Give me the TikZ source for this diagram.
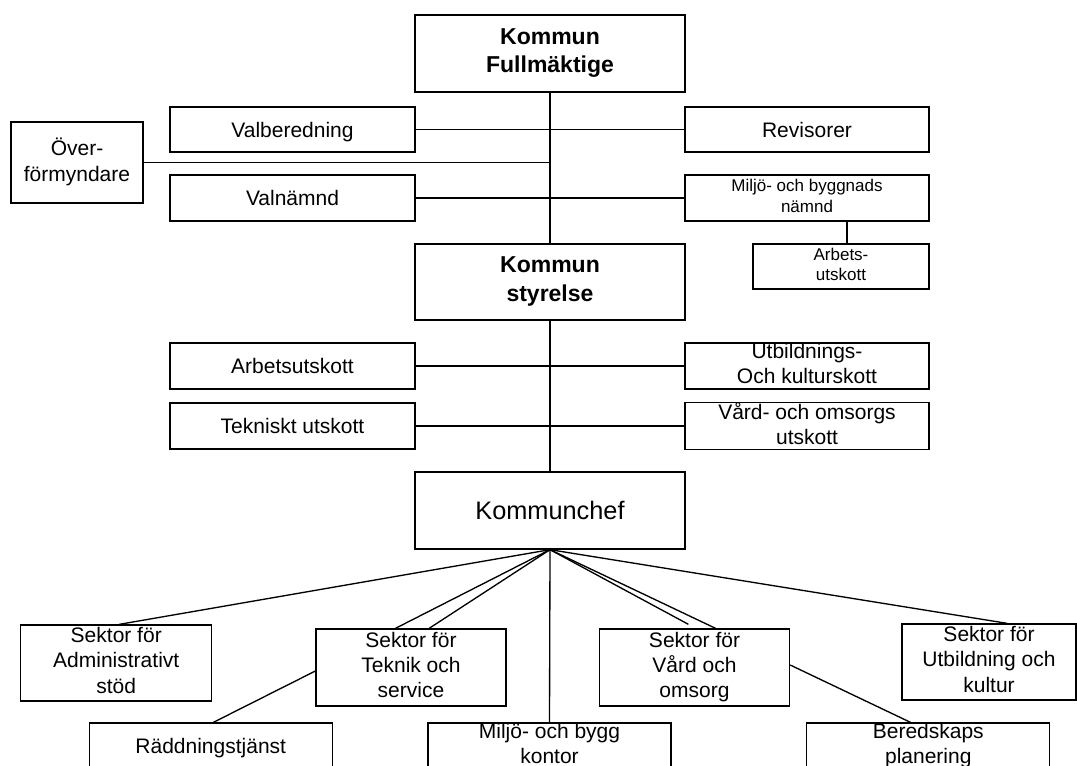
\documentclass[tikz,border=0pt]{standalone}
\usepackage{fontspec}
\setmainfont{Liberation Sans}
\usetikzlibrary{calc}
\newcommand\boxstrut{\rule[-0.25em]{0pt}{1.216em}}
\begin{document}
\begin{tikzpicture}[x=0.75pt,y=-0.75pt,
  bx/.style 2 args={draw=black, line width=1pt, rectangle, inner sep=0pt, align=center,
     minimum width=#1*0.75pt, minimum height=#2*0.75pt,
     execute at begin node={\boxstrut}, execute at end node={\boxstrut}},
  nf/.style={font=\fontsize{15.75}{19}\selectfont},
  sf/.style={font=\fontsize{12.75}{15.5}\selectfont},
  bf/.style={font=\fontsize{17.25}{21.3}\selectfont\bfseries},
  cf/.style={font=\fontsize{19}{23}\selectfont},
  ln/.style={draw=black, line width=1pt}]
\path[use as bounding box, fill=white] (0,0) rectangle (1077,766);
\clip (0,0) rectangle (1077,766);

% top level
\node[bx={270}{77}, bf] (kf) at (550,53.5) {Kommun\\Fullmäktige};
\node[bx={245}{45}, nf] (vb) at (292.5,129.5) {Valberedning};
\node[bx={244}{45}, nf] (rev) at (807,129.5) {Revisorer};
\node[bx={132}{81}, nf] (ovr) at (77,162.5) {Över-\\förmyndare};
\node[bx={245}{46}, nf] (vn) at (292.5,198) {Valnämnd};
\node[bx={244}{46}, sf] (mbn) at (807,198) {Miljö- och byggnads\\nämnd};
\node[bx={176}{45}, sf] (abt) at (841,266.5) {Arbets-\\utskott};
\node[bx={270}{76}, bf] (ks) at (550,282) {Kommun\\styrelse};
\node[bx={245}{46}, nf] (au) at (292.5,366) {Arbetsutskott};
\node[bx={244}{46}, nf] (uks) at (807,366) {Utbildnings-\\Och kulturskott};
\node[bx={245}{46}, nf] (tu) at (292.5,426) {Tekniskt utskott};
\node[bx={244}{46}, nf] (vou) at (807,426) {Vård- och omsorgs\\utskott};
\node[bx={270}{77}, cf] (kc) at (550,510.5) {Kommunchef};

% sectors
\node[bx={191}{76}, nf] (adm) at (116.25,663) {Sektor för\\Administrativt\\stöd};
\node[bx={190}{77}, nf] (tek) at (411,667.5) {Sektor för\\Teknik och\\service};
\node[bx={190}{77}, nf] (vrd) at (694.5,667.5) {Sektor för\\Vård och\\omsorg};
\node[bx={174}{76}, nf] (utb) at (989,662) {Sektor för\\Utbildning och\\kultur};
\node[bx={243}{46}, nf] (rdd) at (210.75,746) {Räddningstjänst};
\node[bx={243}{46}, nf] (mbk) at (549.5,746) {Miljö- och bygg\\kontor};
\node[bx={243}{46}, nf] (ber) at (928.3,746) {Beredskaps\\planering};

% connectors
\draw[ln] (kf.south) -- (ks.north);
\draw[ln] (ks.south) -- (kc.north);
\draw[ln] (vb.east) -- (rev.west);
\draw[ln] (vn.east) -- (mbn.west);
\draw[ln] (ovr.east) -- (ovr.east -| kf.south);
\coordinate (abtop) at ($(abt.north west)!0.534!(abt.north east)$);
\draw[ln] (abtop) -- (abtop |- mbn.south);
\draw[ln] (au.east) -- (uks.west);
\draw[ln] (tu.east) -- (vou.west);

\coordinate (fan) at (kc.south);
\draw[ln] (fan) -- ($(adm.north west)!0.516!(adm.north east)$);
\draw[ln] (fan) -- ($(tek.north west)!0.419!(tek.north east)$);
\draw[ln] (fan) -- ($(tek.north west)!0.595!(tek.north east)$);
\draw[ln] (fan) -- (mbk.north);
\draw[ln] (fan) -- ($(vrd.north west)!0.468!(vrd.north east)+(0,-4)$);
\draw[ln] (fan) -- ($(vrd.north west)!0.61!(vrd.north east)$);
\draw[ln] (fan) -- ($(utb.north west)!0.603!(utb.north east)$);
\draw[ln] ($(tek.north west)!0.545!(tek.south west)$) -- ($(rdd.north west)!0.511!(rdd.north east)$);
\draw[ln] ($(vrd.north east)!0.468!(vrd.south east)$) -- ($(ber.north west)!0.427!(ber.north east)$);
\end{tikzpicture}
\end{document}
